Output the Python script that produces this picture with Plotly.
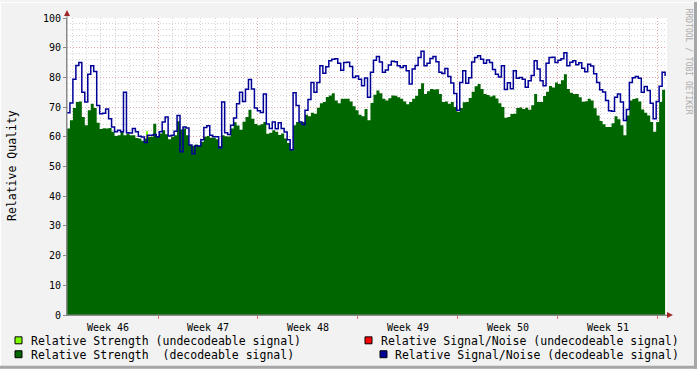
import plotly.graph_objects as go
import pandas as pd

# ---------------- data ----------------
start_time = "2009-11-09 15:00"   # first sample
sample_step = "5h"
week_tick0 = "2009-11-09"         # Monday of ISO week 46
x_range = ["2009-11-09 15:06", "2009-12-21 15:12"]

snr_decodeable = [
    68.1, 71.4, 79.4, 84.0, 85.0, 75.0, 71.7, 81.1, 83.9, 82.0,
    70.5, 67.8, 67.9, 69.4, 66.1, 63.3, 61.7, 62.2, 61.7, 75.0,
    61.4, 61.3, 62.8, 61.7, 60.2, 59.9, 58.1, 60.5, 60.5, 60.8,
    60.0, 61.7, 65.0, 66.7, 60.3, 60.5, 61.9, 67.2, 55.0, 63.3,
    63.0, 57.2, 54.3, 57.0, 56.9, 59.0, 63.1, 63.7, 60.5, 60.0, 60.0,
    56.3, 71.7, 61.4, 60.8, 63.9, 66.3, 71.1, 75.0, 71.9, 76.0,
    79.3, 76.1, 69.7, 68.8, 68.2, 74.4, 64.3, 62.8, 65.0, 62.7,
    64.7, 62.8, 61.6, 59.0, 55.6, 74.8, 70.5, 65.0, 64.1, 68.9,
    72.6, 78.3, 75.0, 78.3, 83.9, 81.4, 83.6, 85.6, 86.1, 86.3,
    84.8, 82.4, 85.0, 85.1, 83.7, 80.0, 80.5, 79.4, 77.2,
    79.8, 73.3, 81.7, 85.8, 87.0, 85.2, 81.7, 82.5, 84.2, 85.4,
    85.3, 83.9, 83.3, 83.9, 82.2, 77.8, 82.8, 84.0, 86.7, 88.8,
    83.9, 84.8, 86.4, 87.0, 85.3, 81.7, 81.3, 83.0, 80.3, 78.1,
    74.6, 68.9, 78.3, 82.2, 78.0, 79.9, 85.2, 86.7, 87.3, 86.1,
    84.8, 85.9, 85.0, 82.7, 81.1, 80.1, 83.9, 75.9, 78.2, 76.2, 82.2,
    79.7, 80.0, 79.4, 76.7, 78.9, 80.6, 85.6, 82.8, 78.9, 77.2,
    84.8, 86.7, 86.8, 85.0, 85.8, 86.3, 88.3, 83.9, 85.1, 85.6,
    84.3, 84.9, 83.1, 81.9, 84.4, 83.8, 81.2, 78.3, 75.8, 75.1,
    72.2, 68.8, 68.6, 73.3, 74.4, 71.7, 65.5, 69.2, 78.3, 79.9,
    80.3, 79.7, 75.0, 76.9, 75.6, 71.3, 66.1, 71.9, 77.0, 81.7, 80.5,
]

strength_decodeable = [
    62.8, 65.6, 69.7, 71.7, 71.9, 66.7, 63.9, 68.9, 71.1, 69.7,
    64.7, 62.6, 62.9, 62.8, 63.0, 61.7, 60.3, 60.5, 61.9, 60.5,
    61.1, 60.5, 60.5, 59.6, 59.4, 58.7, 59.4, 60.0, 60.0, 64.4,
    60.2, 61.1, 62.2, 60.9, 59.2, 60.0, 60.5, 65.2, 62.5, 62.8,
    60.5, 57.2, 57.0, 57.4, 57.0, 58.3, 60.0, 60.3, 59.7, 59.7, 59.2,
    56.9, 60.5, 60.2, 60.1, 62.8, 64.9, 63.8, 62.4, 65.1, 66.7,
    69.1, 66.1, 64.3, 63.9, 64.2, 65.0, 61.0, 61.4, 62.2, 61.7,
    60.6, 61.1, 59.4, 57.9, 55.9, 63.9, 65.0, 64.9, 65.0, 67.4,
    66.9, 68.1, 67.8, 69.8, 71.3, 71.7, 73.4, 73.9, 74.7, 72.2,
    71.3, 72.8, 72.8, 72.8, 71.9, 70.3, 68.9, 67.4, 66.9,
    69.4, 65.6, 71.4, 74.2, 75.6, 74.7, 72.8, 72.2, 73.0, 73.9,
    73.8, 73.3, 72.8, 71.9, 71.0, 71.7, 72.8, 73.8, 76.1, 78.0,
    74.4, 75.3, 76.1, 75.9, 76.0, 74.4, 71.7, 71.9, 71.1, 71.7,
    70.0, 68.4, 69.7, 71.6, 71.7, 73.1, 75.2, 77.0, 77.8, 76.1,
    74.4, 74.1, 73.6, 73.9, 72.9, 71.3, 70.0, 66.4, 66.7, 67.7, 67.8,
    69.7, 69.9, 69.4, 69.8, 69.1, 70.6, 74.4, 71.7, 71.7, 73.7,
    75.2, 77.1, 76.6, 78.3, 77.8, 79.0, 81.1, 76.1, 74.8, 74.4,
    74.4, 73.3, 71.8, 72.0, 72.8, 72.2, 69.6, 67.2, 65.3, 64.2,
    63.3, 63.3, 64.6, 66.9, 65.9, 63.9, 60.5, 67.2, 72.2, 72.7,
    73.0, 71.9, 69.2, 68.1, 67.2, 65.0, 61.7, 65.0, 71.7, 75.8, 75.6,
]

strength_undecodeable_times = ["2009-11-15 06:00"]
strength_undecodeable_values = [62.0]

legend_labels = [
    "Relative Strength (undecodeable signal)",
    "Relative Signal/Noise (undecodeable signal)",
    "Relative Strength\u00a0\u00a0(decodeable signal)",
    "Relative Signal/Noise (decodeable signal)",
]
y_title = "Relative Quality"
watermark = "RRDTOOL / TOBI OETIKER"

# ---------------- styles ----------------
C_LGREEN = "#80FF00"
C_RED = "#FF0000"
C_DGREEN = "#006600"
C_BLUE = "#000099"
C_MGRID = "#E6A3A3"
C_GRID = "#D4D4D4"
C_AXIS = "#8A8A8A"
C_ARROW = "#A02828"
MONO = "DejaVu Sans Mono"

times = pd.date_range(start_time, periods=len(snr_decodeable), freq=sample_step)

fig = go.Figure()
fig.add_trace(go.Bar(
    x=pd.to_datetime(strength_undecodeable_times), y=strength_undecodeable_values,
    width=2.5 * 3600 * 1000, marker=dict(color=C_LGREEN, line=dict(width=0)),
    name=legend_labels[0], showlegend=False, hoverinfo="skip"))
fig.add_trace(go.Scatter(
    x=times, y=strength_decodeable, mode="lines",
    line=dict(shape="hv", width=0, color=C_DGREEN),
    fill="tozeroy", fillcolor=C_DGREEN, name=legend_labels[2], showlegend=False))
fig.add_trace(go.Scatter(
    x=times, y=snr_decodeable, mode="lines",
    line=dict(shape="hv", width=1.5, color=C_BLUE),
    name=legend_labels[3], showlegend=False))

L, R, T, B = 67, 30, 16, 54
W, H = 697, 369
PW, PH = W - L - R, H - T - B


def px(x):
    return (x - L) / PW


def py(y):
    return (T + PH - y) / PH


shapes = []
annotations = []

# axis extensions + arrows
shapes.append(dict(type="line", xref="paper", yref="paper", x0=0, x1=0, y0=0, y1=py(11),
                   line=dict(color=C_AXIS, width=1)))
shapes.append(dict(type="line", xref="paper", yref="paper", x0=0, x1=px(670), y0=0, y1=0,
                   line=dict(color=C_AXIS, width=1)))
shapes.append(dict(type="path", xref="paper", yref="paper",
                   path=f"M {px(64)},{py(14)} L {px(70)},{py(14)} L {px(67)},{py(8)} Z",
                   fillcolor=C_ARROW, line=dict(width=0)))
shapes.append(dict(type="path", xref="paper", yref="paper",
                   path=f"M {px(667)},{py(312)} L {px(667)},{py(318)} L {px(673)},{py(315)} Z",
                   fillcolor=C_ARROW, line=dict(width=0)))

# frame
shapes.append(dict(type="line", xref="paper", yref="paper", x0=px(695.5), x1=px(695.5), y0=py(0), y1=py(369),
                   line=dict(color="#A6A6A6", width=3)))
shapes.append(dict(type="line", xref="paper", yref="paper", x0=px(0), x1=px(697), y0=py(367.5), y1=py(367.5),
                   line=dict(color="#A6A6A6", width=3)))
shapes.append(dict(type="line", xref="paper", yref="paper", x0=px(0.5), x1=px(0.5), y0=py(0), y1=py(366),
                   line=dict(color="#FFFFFF", width=1)))
shapes.append(dict(type="line", xref="paper", yref="paper", x0=px(0), x1=px(694), y0=py(0.5), y1=py(0.5),
                   line=dict(color="#FFFFFF", width=1)))

# legend (left column left-aligned, right column right-aligned like rrdtool)
legend_items = [
    (15, 337, C_LGREEN, 30, "left", 341, legend_labels[0]),
    (365, 337, C_RED, 681, "right", 341, legend_labels[1]),
    (15, 351, C_DGREEN, 30, "left", 355, legend_labels[2]),
    (380, 351, C_BLUE, 681, "right", 355, legend_labels[3]),
]
for sx, sy, col, tx, anchor, ty, label in legend_items:
    shapes.append(dict(type="rect", xref="paper", yref="paper",
                       x0=px(sx), x1=px(sx + 7), y0=py(sy), y1=py(sy + 7),
                       fillcolor=col, line=dict(color="black", width=1)))
    annotations.append(dict(xref="paper", yref="paper", x=px(tx - 1 if anchor == "left" else tx), y=py(ty),
                            xanchor=anchor, yanchor="middle", showarrow=False,
                            text=label, font=dict(family=MONO, size=11.5, color="black")))

annotations.append(dict(xref="paper", yref="paper", x=px(12), y=py(165), textangle=-90,
                        xanchor="center", yanchor="middle", showarrow=False, text=y_title,
                        font=dict(family=MONO, size=11.5, color="black")))
annotations.append(dict(xref="paper", yref="paper", x=px(688), y=py(60), textangle=90,
                        xanchor="center", yanchor="middle", showarrow=False, text=watermark,
                        font=dict(family=MONO, size=8, color="#ABABAB")))

fig.update_layout(
    width=W, height=H,
    margin=dict(l=L, r=R, t=T, b=B),
    paper_bgcolor="#F2F2F2", plot_bgcolor="white",
    showlegend=False, barmode="overlay", bargap=0,
    shapes=shapes, annotations=annotations,
    xaxis=dict(
        type="date", range=x_range, tick0=week_tick0, dtick=7 * 86400000,
        ticklabelmode="period", tickformat="Week %V",
        showgrid=True, gridcolor=C_MGRID, griddash="1px,2px", gridwidth=1,
        ticks="outside", ticklen=3, tickcolor="#E07070",
        showline=True, linecolor=C_AXIS, zeroline=False,
        tickfont=dict(family=MONO, size=10, color="black"),
        minor=dict(tick0=week_tick0, dtick=86400000, showgrid=True,
                   gridcolor=C_GRID, griddash="1px,2px", ticks=""),
    ),
    yaxis=dict(
        range=[0, 100], tick0=0, dtick=10,
        showgrid=True, gridcolor=C_MGRID, griddash="1px,2px", gridwidth=1,
        ticks="outside", ticklen=3, tickcolor=C_AXIS,
        showline=True, linecolor=C_AXIS, zeroline=False,
        tickfont=dict(family=MONO, size=10, color="black"),
        minor=dict(tick0=0, dtick=2, showgrid=True, gridcolor=C_GRID,
                   griddash="1px,2px", ticks=""),
    ),
)

fig.write_html("out.html", config={"displayModeBar": False},
               post_script="document.body.style.margin='0';document.body.style.overflow='hidden';")
